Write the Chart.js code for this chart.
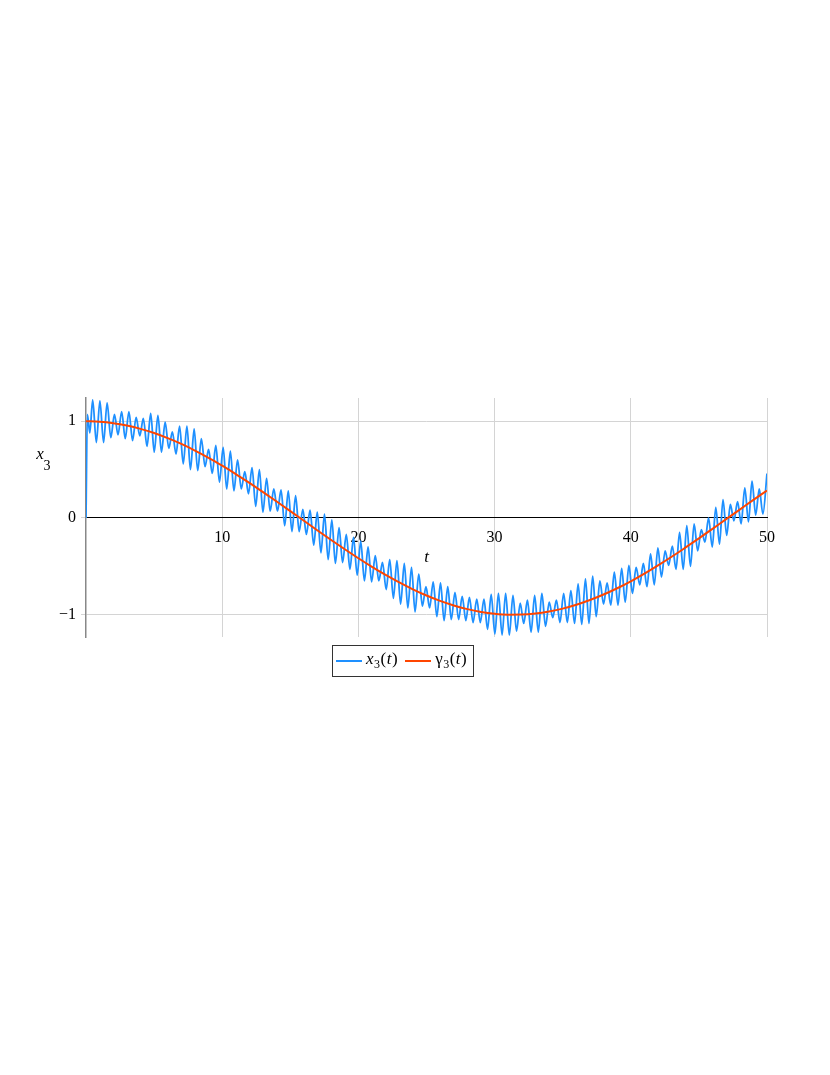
<!DOCTYPE html>
<html>
<head>
<meta charset="utf-8">
<script src="https://cdn.jsdelivr.net/npm/chart.js@4.4.1/dist/chart.umd.min.js"></script>
<style>
  body { margin: 0; background: #fff; }
  .wrap { position: absolute; left: 0; top: 0; width: 830px; height: 1075px; }
  .legend {
    position: absolute; left: 332px; top: 645px; width: 142px; height: 32px;
    border: 1px solid #333; box-sizing: border-box;
    font-family: "Liberation Serif", serif; font-size: 17px; color: #000;
    display: flex; align-items: center;
  }
  .legend .line { display: inline-block; width: 26px; height: 2px; margin: 0 4px 0 3px; }
  .legend .lbl { display: inline-block; margin-right: 4px; letter-spacing: 0.5px; }
  .legend sub { font-size: 12px; }
</style>
</head>
<body>
<div class="wrap">
  <canvas id="myChart" width="830" height="1075"></canvas>
  <div class="legend">
    <span class="line" style="background:#1e90ff"></span><span class="lbl"><i>x</i><sub>3</sub>(<i>t</i>)</span>
    <span class="line" style="background:#ff4500"></span><span class="lbl">&gamma;<sub>3</sub>(<i>t</i>)</span>
  </div>
</div>
<script>
// x3(t): start transient, then successive peaks / troughs
const blueT = [0, 0.1, 0.28,
  0.49, 0.76, 1.02, 1.29, 1.55, 1.82, 2.09, 2.35, 2.62, 2.88,
  3.15, 3.42, 3.68, 3.95, 4.21, 4.48, 4.75, 5.01, 5.28, 5.54,
  5.81, 6.08, 6.34, 6.61, 6.87, 7.14, 7.41, 7.67, 7.94, 8.20,
  8.47, 8.74, 9.00, 9.27, 9.53, 9.80, 10.07, 10.33, 10.60, 10.86,
  11.13, 11.40, 11.66, 11.93, 12.19, 12.46, 12.73, 12.99, 13.26, 13.52,
  13.79, 14.06, 14.32, 14.59, 14.85, 15.12, 15.39, 15.65, 15.92, 16.18,
  16.45, 16.72, 16.98, 17.25, 17.51, 17.78, 18.05, 18.31, 18.58, 18.84,
  19.11, 19.38, 19.64, 19.91, 20.17, 20.44, 20.71, 20.97, 21.24, 21.50,
  21.77, 22.04, 22.30, 22.57, 22.83, 23.10, 23.37, 23.63, 23.90, 24.16,
  24.43, 24.70, 24.96, 25.23, 25.49, 25.76, 26.03, 26.29, 26.56, 26.82,
  27.09, 27.36, 27.62, 27.89, 28.15, 28.42, 28.69, 28.95, 29.22, 29.48,
  29.75, 30.02, 30.28, 30.55, 30.81, 31.08, 31.35, 31.61, 31.88, 32.14,
  32.41, 32.68, 32.94, 33.21, 33.47, 33.74, 34.01, 34.27, 34.54, 34.80,
  35.07, 35.34, 35.60, 35.87, 36.13, 36.40, 36.67, 36.93, 37.20, 37.46,
  37.73, 38.00, 38.26, 38.53, 38.79, 39.06, 39.33, 39.59, 39.86, 40.12,
  40.39, 40.66, 40.92, 41.19, 41.45, 41.72, 41.99, 42.25, 42.52, 42.78,
  43.05, 43.32, 43.58, 43.85, 44.11, 44.38, 44.65, 44.91, 45.18, 45.44,
  45.71, 45.98, 46.24, 46.51, 46.77, 47.04, 47.31, 47.57, 47.84, 48.10,
  48.37, 48.64, 48.90, 49.17, 49.43, 49.70, 50];
const blueV = [0, 1.07, 0.88,
  1.22, 0.78, 1.21, 0.78, 1.19, 0.83, 1.07, 0.86, 1.10, 0.82,
  1.10, 0.80, 1.04, 0.85, 1.03, 0.74, 1.08, 0.68, 1.06, 0.68,
  0.99, 0.72, 0.89, 0.66, 0.95, 0.56, 0.95, 0.50, 0.92, 0.49,
  0.82, 0.53, 0.71, 0.46, 0.75, 0.37, 0.73, 0.30, 0.69, 0.28,
  0.60, 0.30, 0.48, 0.25, 0.52, 0.12, 0.50, 0.06, 0.41, 0.07,
  0.30, 0.07, 0.29, -0.08, 0.28, -0.14, 0.23, -0.14, 0.09, -0.17,
  0.08, -0.28, 0.06, -0.36, 0.04, -0.43, -0.02, -0.47, -0.10, -0.46,
  -0.17, -0.53, -0.20, -0.59, -0.24, -0.65, -0.30, -0.66, -0.39, -0.65,
  -0.46, -0.74, -0.43, -0.83, -0.44, -0.89, -0.47, -0.93, -0.51, -0.97,
  -0.58, -0.91, -0.71, -0.93, -0.66, -1.02, -0.67, -1.06, -0.71, -1.05,
  -0.77, -1.05, -0.81, -1.06, -0.82, -1.08, -0.84, -1.08, -0.84, -1.15,
  -0.79, -1.20, -0.78, -1.21, -0.78, -1.21, -0.80, -1.17, -0.88, -1.09,
  -0.85, -1.18, -0.80, -1.18, -0.78, -1.12, -0.87, -1.03, -0.85, -1.08,
  -0.78, -1.08, -0.75, -1.09, -0.68, -1.10, -0.63, -1.09, -0.60, -1.02,
  -0.65, -0.89, -0.67, -0.90, -0.56, -0.90, -0.52, -0.87, -0.49, -0.78,
  -0.51, -0.69, -0.47, -0.71, -0.37, -0.69, -0.31, -0.61, -0.34, -0.49,
  -0.29, -0.53, -0.15, -0.53, -0.08, -0.50, -0.06, -0.34, -0.12, -0.25,
  0.00, -0.30, 0.11, -0.27, 0.19, -0.18, 0.14, -0.03, 0.17, -0.06,
  0.31, -0.04, 0.38, 0.03, 0.30, 0.04, 0.46];

// gamma3(t) read at whole t
const gammaT = [0, 1, 2, 3, 4, 5, 6, 7, 8, 9, 10, 11, 12, 13, 14, 15, 16, 17, 18, 19, 20,
  21, 22, 23, 24, 25, 26, 27, 28, 29, 30, 31, 32, 33, 34, 35, 36, 37, 38, 39, 40,
  41, 42, 43, 44, 45, 46, 47, 48, 49, 50];
const gammaV = [1.00, 0.995, 0.980, 0.955, 0.921, 0.878, 0.825, 0.765, 0.697, 0.622, 0.540,
  0.454, 0.362, 0.267, 0.170, 0.071, -0.029, -0.129, -0.227, -0.323, -0.416,
  -0.505, -0.589, -0.666, -0.737, -0.801, -0.857, -0.904, -0.942, -0.971, -0.990,
  -0.999, -0.998, -0.988, -0.967, -0.937, -0.897, -0.848, -0.791, -0.726, -0.654,
  -0.575, -0.490, -0.401, -0.307, -0.211, -0.112, -0.012, 0.087, 0.187, 0.284];

const xTicks = [10, 20, 30, 40, 50];
const yTicks = [-1, 0, 1];

const serif = '"Liberation Serif", "Times New Roman", serif';

const toPoints = (ts, vs) => ts.map((t, i) => ({ x: t, y: vs[i] }));

// axis titles drawn next to the axes
const axisTitles = {
  id: 'axisTitles',
  afterDraw: (chart) => {
    const ctx = chart.ctx;
    const xs = chart.scales.x;
    const ys = chart.scales.y;
    ctx.save();
    ctx.fillStyle = '#000';
    ctx.textAlign = 'center';
    ctx.textBaseline = 'middle';
    ctx.font = 'italic 17px ' + serif;
    ctx.fillText('t', xs.getPixelForValue(25), ys.getPixelForValue(0) + 40);
    ctx.fillText('x', chart.chartArea.left - 46, chart.chartArea.top + 57);
    ctx.font = '14px ' + serif;
    ctx.fillText('3', chart.chartArea.left - 39, chart.chartArea.top + 68);
    ctx.restore();
  }
};

const ctx = document.getElementById('myChart').getContext('2d');
const myChart = new Chart(ctx, {
  type: 'line',
  data: {
    datasets: [
      {
        label: 'gamma3(t)',
        data: toPoints(gammaT, gammaV),
        borderColor: '#ff4500',
        borderWidth: 2,
        pointRadius: 0,
        cubicInterpolationMode: 'monotone'
      },
      {
        label: 'x3(t)',
        data: toPoints(blueT, blueV),
        borderColor: '#1e90ff',
        borderWidth: 1.8,
        pointRadius: 0,
        cubicInterpolationMode: 'monotone'
      }
    ]
  },
  options: {
    responsive: false,
    animation: false,
    devicePixelRatio: 1,
    events: [],
    layout: { padding: { left: 46, right: 63, top: 398, bottom: 438 } },
    plugins: { legend: { display: false }, tooltip: { enabled: false } },
    scales: {
      x: {
        type: 'linear',
        min: 0,
        max: 50,
        position: { y: 0 },
        afterFit: (scale) => { scale.height = 0; },
        afterBuildTicks: (scale) => { scale.ticks = xTicks.map(v => ({ value: v })); },
        grid: { color: '#d4d4d4', drawTicks: false },
        border: { color: '#000', width: 1 },
        ticks: { padding: 10, maxRotation: 0, color: '#000', font: { family: serif, size: 16 } }
      },
      y: {
        type: 'linear',
        min: -1.23,
        max: 1.24,
        afterFit: (scale) => { scale.width = 40; },
        afterBuildTicks: (scale) => { scale.ticks = yTicks.map(v => ({ value: v })); },
        grid: { color: '#d4d4d4', tickLength: 5 },
        border: { color: '#888', width: 1.5 },
        ticks: {
          padding: 5,
          color: '#000',
          font: { family: serif, size: 16 },
          callback: (v) => v < 0 ? '\u2212' + Math.abs(v) : String(v)
        }
      }
    }
  },
  plugins: [axisTitles]
});
</script>
</body>
</html>
